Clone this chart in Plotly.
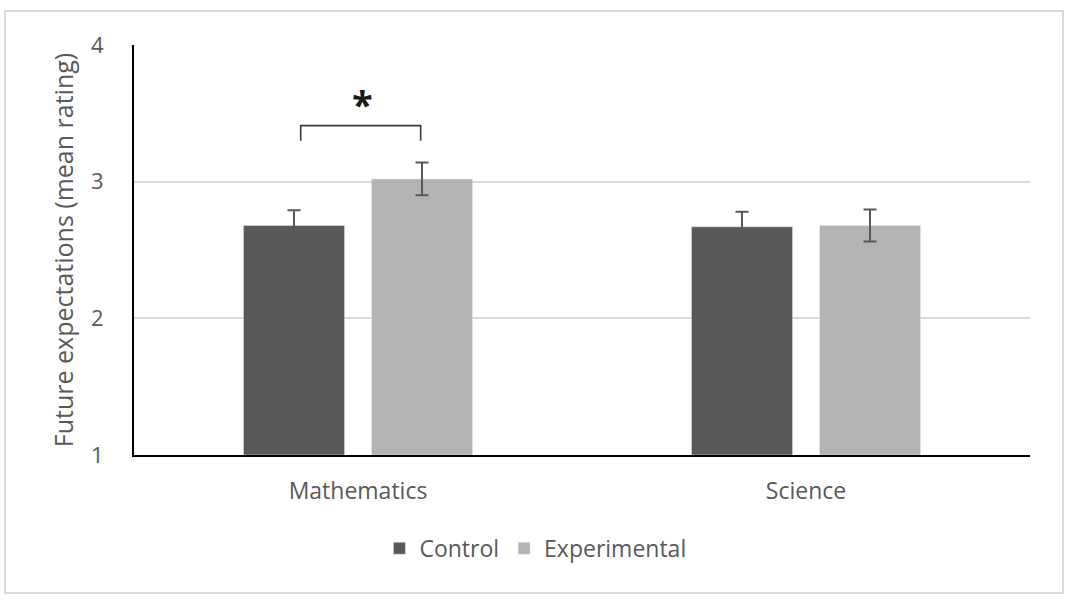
import plotly.graph_objects as go

categories = ["Mathematics", "Science"]
control_mean = [2.68, 2.67]
control_err = [0.11, 0.11]
exp_mean = [3.02, 2.68]
exp_err = [0.12, 0.117]
y_ticks = [1, 2, 3, 4]

dark = "#595959"
light = "#b3b3b3"
font = "Open Sans"

fig = go.Figure()
fig.add_trace(go.Bar(
    x=categories, y=[v - 1 for v in control_mean], base=1, name="Control",
    marker=dict(color=dark),
    error_y=dict(type="data", array=control_err, color=dark, thickness=2, width=6.5),
    hoverinfo="skip",
))
fig.add_trace(go.Bar(
    x=categories, y=[v - 1 for v in exp_mean], base=1, name="Experimental",
    marker=dict(color=light),
    error_y=dict(type="data", array=exp_err, color=dark, thickness=2, width=6.5),
    hoverinfo="skip",
))

W, H = 1073, 604
L, R, T, B = 134, 43, 45, 149
pw, ph = W - L - R, H - T - B

def px_x(p):
    return (p - L) / pw

def px_y(p):
    return (H - B - p) / ph

shapes = [
    dict(type="rect", xref="paper", yref="paper",
         x0=px_x(5), x1=px_x(1063), y0=px_y(593), y1=px_y(11),
         line=dict(color="#d9d9d9", width=2), layer="below"),
]

# significance bracket between Mathematics bars
slot = 0.5 * (1 - 0.4286)
xl, xr = -slot / 2 + 0.015, slot / 2 - 0.003
top_y = max(control_mean[0] + control_err[0], exp_mean[0] + exp_err[0]) + 0.27
shapes.append(dict(type="path", xref="x", yref="y",
                   path=f"M {xl},{top_y-0.11} L {xl},{top_y} L {xr},{top_y} L {xr},{top_y-0.11}",
                   line=dict(color="#3a3a3a", width=1.6)))

fig.update_layout(
    width=W, height=H,
    margin=dict(l=L, r=R, t=T, b=B),
    paper_bgcolor="white", plot_bgcolor="white",
    barmode="group", bargap=0.4286, bargroupgap=0.21,
    font=dict(family=font, color=dark, size=22),
    showlegend=True,
    legend=dict(orientation="h", x=0.448, xanchor="center", y=-0.175, yanchor="top",
                font=dict(size=23, color=dark), itemwidth=30),
    shapes=shapes,
    annotations=[dict(xref="x", yref="y", x=0.01, y=top_y - 0.045, text="<b>*</b>",
                      showarrow=False, yanchor="bottom", font=dict(size=38, color="#1a1a1a"))],
)
fig.update_xaxes(showline=True, linecolor="black", linewidth=2, ticks="",
                 tickfont=dict(size=23, color=dark), ticklabelstandoff=14)
fig.update_yaxes(range=[1, 4], tickvals=y_ticks, showline=True, linecolor="black", linewidth=2,
                 showgrid=True, gridcolor="#d9d9d9", gridwidth=2, zeroline=False,
                 tickfont=dict(size=22, color=dark), ticklabelstandoff=24,
                 title=dict(text="Future expectations (mean rating)", font=dict(size=25, color=dark), standoff=10))

fig.write_html("out.html")
